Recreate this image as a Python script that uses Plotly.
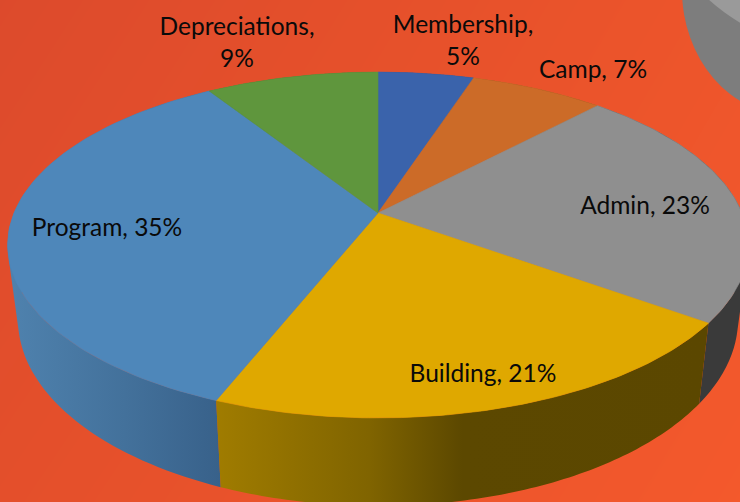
import numpy as np
import plotly.graph_objects as go

categories = ["Membership", "Camp", "Admin", "Building", "Program", "Depreciations"]
values = [5, 7, 23, 21, 35, 9]
top_colors = ["#3A63AB", "#CC6B28", "#8F8F8F", "#DFA800", "#4E87BA", "#5F963D"]
side_scales = [
    [[0, "#2A4A80"], [1, "#2A4A80"]],
    [[0, "#8A4A1A"], [1, "#8A4A1A"]],
    [[0, "#3A3A3A"], [1, "#3A3A3A"]],
    [[0, "#A07C00"], [0.31, "#806400"], [0.5, "#5C4800"], [1, "#5B4700"]],
    [[0, "#4F82AE"], [0.55, "#43719B"], [1, "#38618A"]],
    [[0, "#47702E"], [1, "#47702E"]],
]
label_texts = ["Membership,<br>5%", "Camp, 7%", "Admin, 23%", "Building, 21%", "Program, 35%", "Depreciations,<br>9%"]
label_x = [463, 593, 645, 483, 107, 237]
label_y = [43, 72, 208, 376, 230, 45]

# Perspective projection of the pie's top and bottom discs
CX, CY = 378, 213
RX, RY_TOP, K = 364, 167, 0.185
BOTTOM_SCALE, BOTTOM_CY, RY_BOTTOM = 0.972, 285, 180


def project(turn, bottom=False):
    a = 2 * np.pi * np.asarray(turn)
    sx, sy = np.sin(a), np.cos(a)
    w = 1 + K * sy
    if bottom:
        return CX + BOTTOM_SCALE * RX * sx / w, BOTTOM_CY - RY_BOTTOM * sy / w
    return CX + RX * sx / w, CY - RY_TOP * sy / w


def wall_quads(t):
    """One sub-path per wall segment, all with the same winding."""
    xa, ya = project(t)
    xb, yb = project(t, bottom=True)
    xs, ys = [], []
    for j in range(len(t) - 1):
        qx = [xa[j], xa[j + 1], xb[j + 1], xb[j]]
        qy = [ya[j], ya[j + 1], yb[j + 1], yb[j]]
        area = sum(qx[n] * qy[(n + 1) % 4] - qx[(n + 1) % 4] * qy[n] for n in range(4))
        if area < 0:
            qx, qy = qx[::-1], qy[::-1]
        xs += qx + [qx[0], None]
        ys += qy + [qy[0], None]
    return xs, ys


total = sum(values)
edges = np.cumsum([0] + values) / total

fig = go.Figure()

# Background gradient
fig.add_trace(go.Heatmap(
    x=[-10, 750], y=[-10, 512], z=[[0.0, 0.72], [0.32, 1.0]], zsmooth="best",
    colorscale=[[0, "#DC4A2C"], [0.5, "#E8522B"], [1, "#F4592C"]],
    showscale=False, hoverinfo="skip",
))

# Side walls, back to front
for i in [5, 0, 1, 4, 2, 3]:
    xs, ys = wall_quads(np.linspace(edges[i], edges[i + 1], 90))
    fig.add_trace(go.Scatter(
        x=xs, y=ys, mode="lines", line=dict(width=0), fill="toself",
        fillgradient=dict(type="horizontal", colorscale=side_scales[i]),
        hoverinfo="skip", showlegend=False,
    ))

# Top faces
for i, cat in enumerate(categories):
    t = np.linspace(edges[i], edges[i + 1], 90)
    xa, ya = project(t)
    fig.add_trace(go.Scatter(
        x=np.r_[CX, xa, CX], y=np.r_[CY, ya, CY], name=cat,
        mode="lines", line=dict(width=0.6, color=top_colors[i]), fill="toself",
        fillcolor=top_colors[i], hoverinfo="name", showlegend=False,
    ))

# Labels
fig.add_trace(go.Scatter(
    x=label_x, y=label_y, mode="text", text=label_texts, textposition="middle center",
    textfont=dict(family="Lato, Carlito, sans-serif", size=24.5, color="#0A0A0A"),
    hoverinfo="skip", showlegend=False,
))

fig.update_layout(
    width=740, height=502, margin=dict(l=0, r=0, t=0, b=0), autosize=False,
    paper_bgcolor="#E8522B", plot_bgcolor="#E8522B",
    xaxis=dict(range=[0, 740], visible=False, fixedrange=True),
    yaxis=dict(range=[502, 0], visible=False, fixedrange=True),
    shapes=[
        dict(type="circle", xref="x", yref="y", x0=682, x1=898, y0=-135, y1=115,
             fillcolor="#7D7D7D", line=dict(width=0)),
        dict(type="path", xref="x", yref="y", path="M 707 -2 Q 722 12 742 24 L 742 -2 Z",
             fillcolor="#9A9A9A", line=dict(width=0)),
    ],
)

fig.write_html(
    "out.html",
    config={"displayModeBar": False},
    post_script="document.body.style.margin='0';document.documentElement.style.overflow='hidden';",
)
